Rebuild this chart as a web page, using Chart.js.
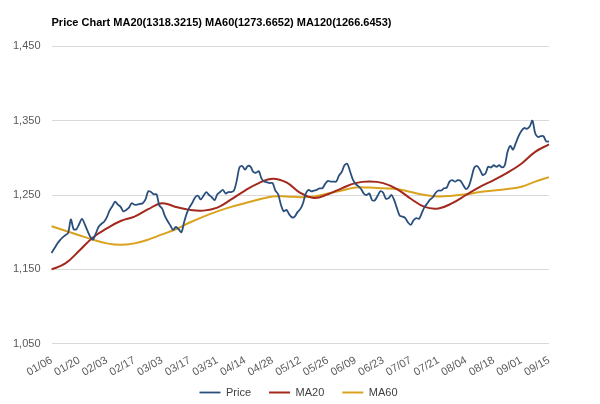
<!DOCTYPE html>
<html>
<head>
<meta charset="utf-8">
<script src="https://cdn.jsdelivr.net/npm/chart.js@4/dist/chart.umd.min.js"></script>
<style>
  body { margin: 0; background: #fff; }
  #wrap { width: 600px; height: 404px; }
</style>
</head>
<body>
<div id="wrap"><canvas id="chart" width="600" height="404"></canvas></div>
<script>
// tick labels, one every 10 trading days
const tickLabels = ['01/06', '01/20', '02/03', '02/17', '03/03', '03/17', '03/31', '04/14', '04/28', '05/12',
  '05/26', '06/09', '06/23', '07/07', '07/21', '08/04', '08/18', '09/01', '09/15'];

// daily closing price (181 trading days)
const price = [
  1172, 1178, 1184, 1189, 1193, 1196, 1199, 1217, 1204, 1204,
  1211, 1218, 1211, 1202, 1194, 1190, 1198, 1207, 1211, 1214,
  1220, 1229, 1235, 1241, 1237, 1234, 1228, 1230, 1233, 1239,
  1237, 1237, 1238, 1239, 1244, 1255, 1254, 1251, 1251, 1236,
  1232, 1222, 1215, 1209, 1203, 1207, 1204, 1200, 1214, 1226,
  1234, 1240, 1247, 1249, 1244, 1249, 1254, 1250, 1247, 1243,
  1251, 1254, 1257, 1252, 1254, 1254, 1256, 1269, 1287, 1289,
  1284, 1289, 1288, 1281, 1280, 1282, 1272, 1268, 1267, 1266,
  1266, 1256, 1251, 1237, 1228, 1230, 1224, 1220, 1221, 1227,
  1231, 1239, 1252, 1257, 1255, 1256, 1257, 1259, 1259, 1265,
  1269, 1268, 1268, 1268, 1276, 1281, 1290, 1292, 1282, 1271,
  1265, 1262, 1258, 1252, 1250, 1252, 1243, 1243, 1249, 1255,
  1253, 1245, 1246, 1250, 1243, 1232, 1222, 1221, 1219, 1213,
  1210, 1216, 1219, 1218, 1226, 1234, 1239, 1244, 1247, 1253,
  1256, 1256, 1259, 1260, 1268, 1270, 1268, 1270, 1269, 1263,
  1258, 1262, 1274, 1287, 1289, 1284, 1277, 1279, 1288, 1287,
  1290, 1288, 1290, 1287, 1290, 1308, 1316, 1311, 1320, 1329,
  1336, 1340, 1339, 1342, 1350, 1333, 1328, 1329, 1329, 1322,
  1322
];

// moving averages, read every 5 trading days
const ma20 = [
  1150, 1158, 1175, 1193, 1205, 1215, 1221, 1231, 1239, 1234,
  1230, 1229, 1233, 1244, 1256, 1266, 1272, 1267, 1253, 1246,
  1251, 1259, 1266, 1268, 1266, 1258, 1245, 1234, 1232, 1239,
  1250, 1261, 1270, 1280, 1292, 1308, 1318
];
const ma60 = [
  1208, 1202, 1196, 1190, 1185, 1183, 1185, 1190, 1197, 1204,
  1213, 1221, 1228, 1234, 1239, 1244, 1248, 1248, 1247, 1248,
  1252, 1256, 1260, 1260, 1259, 1258, 1254, 1250, 1248, 1249,
  1251, 1254, 1256, 1258, 1261, 1268, 1274
];

const labels = price.map((v, i) => i % 10 === 0 ? tickLabels[i / 10] : '');
const spread = arr => price.map((v, i) => i % 5 === 0 ? arr[i / 5] : null);

const font = { family: 'Liberation Sans, Arial, sans-serif', size: 11 };

// legend uses wide item spacing; keep its box short, then grow it upward so the row sits lower,
// and nudge it right so the row is centred like the original
const legendShift = {
  id: 'legendShift',
  afterLayout(chart) {
    chart.legend.top -= 12;
    chart.legend.left += 23;
    chart.legend.right += 23;
  }
};

new Chart(document.getElementById('chart'), {
  type: 'line',
  data: {
    labels: labels,
    datasets: [
      { label: 'Price', data: price, borderColor: '#2a4f7c', borderWidth: 1.8, tension: 0.3 },
      { label: 'MA20', data: spread(ma20), borderColor: '#a3291d', borderWidth: 2, tension: 0.4, spanGaps: true },
      { label: 'MA60', data: spread(ma60), borderColor: '#d9a21f', borderWidth: 2, tension: 0.4, spanGaps: true }
    ]
  },
  options: {
    responsive: false,
    animation: false,
    layout: { padding: { left: 2, right: 51, top: 0, bottom: 0 } },
    elements: { point: { radius: 0 } },
    plugins: {
      title: {
        display: true,
        text: 'Price Chart MA20(1318.3215) MA60(1273.6652) MA120(1266.6453)',
        align: 'start',
        fullSize: false,
        color: '#000',
        font: { family: font.family, size: 11, weight: 'bold' },
        padding: { top: 16, bottom: 17 }
      },
      legend: {
        position: 'bottom',
        maxHeight: 23,
        labels: {
          usePointStyle: true,
          pointStyle: 'line',
          pointStyleWidth: 21,
          padding: 18,
          color: '#404040',
          font: font
        }
      },
      tooltip: { enabled: false }
    },
    scales: {
      x: {
        grid: { display: false },
        border: { display: false },
        ticks: {
          autoSkip: false,
          minRotation: 30,
          maxRotation: 30,
          padding: 2,
          color: '#595959',
          font: font
        }
      },
      y: {
        min: 1050,
        max: 1450,
        grid: { color: '#d9d9d9', drawTicks: false },
        border: { display: false },
        ticks: {
          stepSize: 100,
          padding: 11,
          color: '#595959',
          font: font,
          callback: v => v.toLocaleString('en-US')
        }
      }
    }
  },
  plugins: [legendShift]
});
</script>
</body>
</html>
